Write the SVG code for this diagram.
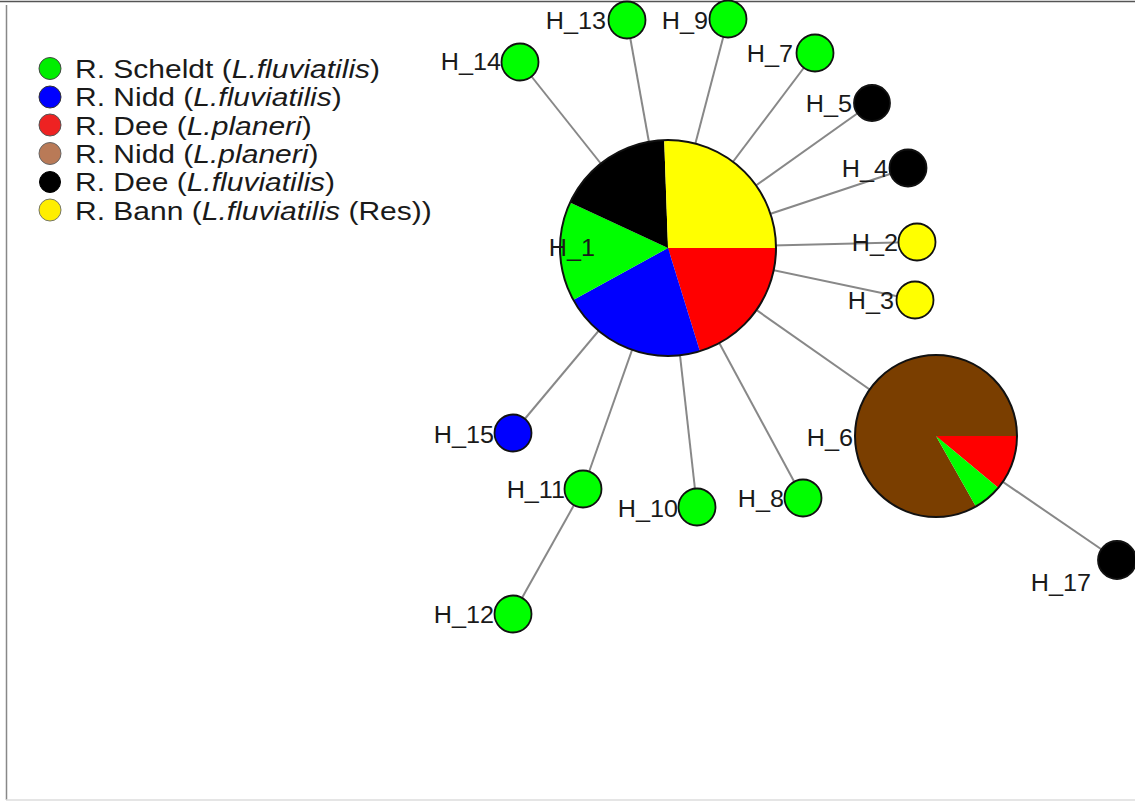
<svg xmlns="http://www.w3.org/2000/svg" width="1135" height="803" viewBox="0 0 1135 803">
<style>
.lbl{font-family:"Liberation Sans",Arial,sans-serif;font-size:24px;fill:#1a1a1a;text-anchor:end}
.leg{font-family:"Liberation Sans",Arial,sans-serif;font-size:25px;fill:#1a1a1a}
.leg tspan.i{font-style:italic}
.edge{stroke:#888;stroke-width:2;fill:none}
.nd{stroke:#111;stroke-width:1.8}
.pie{stroke:none}
</style>
<rect x="0" y="0" width="1135" height="803" fill="#fff"/>
<g id="frame">
<line x1="0" y1="1.5" x2="1135" y2="1.5" stroke="#555" stroke-width="1.5"/>
<line x1="6.5" y1="5" x2="6.5" y2="800" stroke="#888" stroke-width="1.5"/>
<line x1="6" y1="800" x2="1135" y2="800" stroke="#ddd" stroke-width="1.5"/>
</g>
<g id="legend">
<circle cx="50" cy="68.5" r="11" fill="#00ee00" stroke="#444" stroke-width="1"/>
<circle cx="50" cy="97" r="11" fill="#0000ff" stroke="#333" stroke-width="1"/>
<circle cx="50" cy="125" r="11" fill="#ee2222" stroke="#555" stroke-width="1"/>
<circle cx="50" cy="153.5" r="11" fill="#b97a57" stroke="#666" stroke-width="1"/>
<circle cx="50" cy="182" r="10.5" fill="#000" stroke="#000" stroke-width="1"/>
<circle cx="50" cy="210" r="11" fill="#ffee00" stroke="#776" stroke-width="1"/>
<text class="leg" transform="translate(75,77.5) scale(1.2,1)">R. Scheldt (<tspan class="i">L.fluviatilis</tspan>)</text>
<text class="leg" transform="translate(75,106) scale(1.2,1)">R. Nidd (<tspan class="i">L.fluviatilis</tspan>)</text>
<text class="leg" transform="translate(75,134.5) scale(1.2,1)">R. Dee (<tspan class="i">L.planeri</tspan>)</text>
<text class="leg" transform="translate(75,163) scale(1.2,1)">R. Nidd (<tspan class="i">L.planeri</tspan>)</text>
<text class="leg" transform="translate(75,191) scale(1.2,1)">R. Dee (<tspan class="i">L.fluviatilis</tspan>)</text>
<text class="leg" transform="translate(75,219.5) scale(1.2,1)">R. Bann (<tspan class="i">L.fluviatilis</tspan> (Res))</text>
</g>
<g id="connectors">
<line class="edge" x1="668" y1="248" x2="520" y2="62"/>
<line class="edge" x1="668" y1="248" x2="627" y2="20"/>
<line class="edge" x1="668" y1="248" x2="728" y2="19"/>
<line class="edge" x1="668" y1="248" x2="815" y2="53"/>
<line class="edge" x1="668" y1="248" x2="872" y2="103"/>
<line class="edge" x1="668" y1="248" x2="908" y2="168"/>
<line class="edge" x1="668" y1="248" x2="917" y2="242"/>
<line class="edge" x1="668" y1="248" x2="915" y2="300"/>
<line class="edge" x1="668" y1="248" x2="936" y2="436"/>
<line class="edge" x1="668" y1="248" x2="513" y2="433"/>
<line class="edge" x1="668" y1="248" x2="583" y2="489"/>
<line class="edge" x1="668" y1="248" x2="697" y2="507"/>
<line class="edge" x1="668" y1="248" x2="803" y2="498"/>
<line class="edge" x1="583" y1="489" x2="513" y2="614"/>
<line class="edge" x1="936" y1="436" x2="1117" y2="560"/>
</g>
<g id="H_1">
<path class="pie" fill="#ff0000" d="M668,248 L776,248 A108,108 0 0 1 699.9,351.2 Z"/>
<path class="pie" fill="#0000ff" d="M668,248 L699.9,351.2 A108,108 0 0 1 573.3,299.9 Z"/>
<path class="pie" fill="#00ff00" d="M668,248 L573.3,299.9 A108,108 0 0 1 570,202.5 Z"/>
<path class="pie" fill="#000000" d="M668,248 L570,202.5 A108,108 0 0 1 664.2,140.1 Z"/>
<path class="pie" fill="#ffff00" d="M668,248 L664.2,140.1 A108,108 0 0 1 776,248 Z"/>
<circle cx="668" cy="248" r="108" fill="none" stroke="#111" stroke-width="2"/>
<text class="lbl" transform="translate(595,256) scale(1.05,1)">H_1</text>
</g>
<g id="H_6">
<path class="pie" fill="#7a3e00" d="M936,436 L975.9,506.5 A81,81 0 1 1 1017,436 Z"/>
<path class="pie" fill="#ff0000" d="M936,436 L1017,436 A81,81 0 0 1 998.2,487.8 Z"/>
<path class="pie" fill="#00ff00" d="M936,436 L998.2,487.8 A81,81 0 0 1 975.9,506.5 Z"/>
<circle cx="936" cy="436" r="81" fill="none" stroke="#111" stroke-width="2"/>
<text class="lbl" transform="translate(853,446) scale(1.05,1)">H_6</text>
</g>
<g id="H_14"><circle class="nd" cx="520" cy="62" r="18.5" fill="#00ff00"/><text class="lbl" transform="translate(501,70) scale(1.05,1)">H_14</text></g>
<g id="H_13"><circle class="nd" cx="627" cy="20" r="18.5" fill="#00ff00"/><text class="lbl" transform="translate(606,29) scale(1.05,1)">H_13</text></g>
<g id="H_9"><circle class="nd" cx="728" cy="19" r="18.5" fill="#00ff00"/><text class="lbl" transform="translate(708,29) scale(1.05,1)">H_9</text></g>
<g id="H_7"><circle class="nd" cx="815" cy="53" r="18.5" fill="#00ff00"/><text class="lbl" transform="translate(793,62) scale(1.05,1)">H_7</text></g>
<g id="H_5"><circle class="nd" cx="872" cy="103" r="18" fill="#000"/><text class="lbl" transform="translate(852,112) scale(1.05,1)">H_5</text></g>
<g id="H_4"><circle class="nd" cx="908" cy="168" r="18.5" fill="#000"/><text class="lbl" transform="translate(888,177) scale(1.05,1)">H_4</text></g>
<g id="H_2"><circle class="nd" cx="917" cy="242" r="18.5" fill="#ffff00"/><text class="lbl" transform="translate(898,251) scale(1.05,1)">H_2</text></g>
<g id="H_3"><circle class="nd" cx="915" cy="300" r="18.5" fill="#ffff00"/><text class="lbl" transform="translate(894,309) scale(1.05,1)">H_3</text></g>
<g id="H_15"><circle class="nd" cx="513" cy="433" r="18.5" fill="#0000ff"/><text class="lbl" transform="translate(494,443) scale(1.05,1)">H_15</text></g>
<g id="H_11"><circle class="nd" cx="583" cy="489" r="18.5" fill="#00ff00"/><text class="lbl" transform="translate(565,498) scale(1.05,1)">H_11</text></g>
<g id="H_10"><circle class="nd" cx="697" cy="507" r="18.5" fill="#00ff00"/><text class="lbl" transform="translate(678,517) scale(1.05,1)">H_10</text></g>
<g id="H_8"><circle class="nd" cx="803" cy="498" r="18.5" fill="#00ff00"/><text class="lbl" transform="translate(784,507) scale(1.05,1)">H_8</text></g>
<g id="H_12"><circle class="nd" cx="513" cy="614" r="18.5" fill="#00ff00"/><text class="lbl" transform="translate(494,623) scale(1.05,1)">H_12</text></g>
<g id="H_17"><circle class="nd" cx="1117" cy="560" r="19" fill="#000"/><text class="lbl" transform="translate(1091,591) scale(1.05,1)">H_17</text></g>
</svg>
